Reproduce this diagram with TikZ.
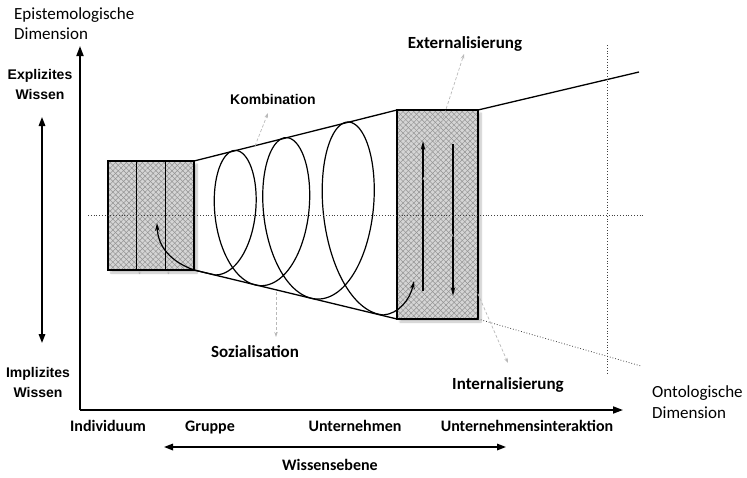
\documentclass[tikz,border=0pt]{standalone}
\usepackage{fontspec}
\setmainfont{Carlito}
\newfontfamily\arialfont{Liberation Sans}
\usetikzlibrary{arrows.meta,patterns.meta,shadows.blur}

\tikzset{
  axisline/.style={line width=1.8pt, -{Triangle[length=10pt,width=7pt]}},
  twoway/.style={line width=1.6pt, {Triangle[length=9pt,width=6.5pt]}-{Triangle[length=9pt,width=6.5pt]}},
  coneline/.style={line width=1.3pt},
  spiralline/.style={line width=1.2pt},
  hatchbox/.style={
    preaction={blur shadow={shadow xshift=3pt, shadow yshift=-3pt, shadow blur steps=6, shadow opacity=25}},
    preaction={fill=gray!33},
    preaction={pattern={Lines[angle=45,distance=3.8pt,line width=0.5pt]}, pattern color=gray!85},
    preaction={pattern={Lines[angle=-45,distance=3.8pt,line width=0.5pt]}, pattern color=gray!85},
    draw=black, line width=1.2pt, inner sep=0pt, outer sep=0pt},
  guide/.style={dotted, line width=0.8pt, black!75},
  pointer/.style={densely dashed, gray!55, line width=0.7pt, -{Stealth[length=5pt,width=3.5pt]}},
  flowarrow/.style={line width=1.2pt, -{Stealth[length=9pt,width=4.5pt]}},
  plainlbl/.style={font=\fontsize{17}{20}\selectfont, anchor=base west, inner sep=0pt},
  scalelbl/.style={font=\fontsize{16}{19}\selectfont\bfseries, anchor=base, inner sep=0pt},
  modelbl/.style={font=\fontsize{17}{20}\selectfont\bfseries, anchor=base, inner sep=0pt},
  arialbold/.style={font=\arialfont\fontsize{14}{20}\selectfont\bfseries, align=center, inner sep=0pt}
}

\begin{document}
\begin{tikzpicture}[x=1pt,y=-1pt]
\useasboundingbox (0,0) rectangle (747,477);

% hatched blocks: individual (three columns) and organisation
\node[hatchbox, minimum width=28.67pt, minimum height=109pt] (ind1) at (122.33,215.5) {};
\node[hatchbox, minimum width=28.67pt, minimum height=109pt] (ind2) at (151,215.5) {};
\node[hatchbox, minimum width=28.67pt, minimum height=109pt] (ind3) at (179.67,215.5) {};
\node[hatchbox, minimum width=81pt, minimum height=209pt] (org) at (437.5,214.5) {};

% cone outline
\coordinate (farright) at (639,72);
\draw[coneline] (ind3.north east) -- (org.north west);
\draw[coneline] (ind3.south east) -- (org.south west);
\draw[coneline] (org.north east) -- (farright);

% knowledge spiral: loops touching the cone, ending with an arrow into the organisation block
\coordinate (orgentry) at (414,281);
\draw[spiralline, -{Stealth[length=8pt,width=4.5pt]}] (ind3.south east)
  -- plot[domain=0.5:3.5, samples=600, variable=\u]
  ({5.5*\u*\u+34.5*\u+196 - (26.5+5*\u)*sin(360*\u)},
   {215.5 - 0.00735*(5.5*\u*\u+34.5*\u+2) - (54.5 + 0.24385*(5.5*\u*\u+34.5*\u+2))*cos(360*\u)})
  .. controls (398,314) and (410,300) .. (orgentry);

% curved arrow inside the individual block
\coordinate (indentry) at (157,223);
\draw[spiralline, -{Stealth[length=8pt,width=4.5pt]}] (ind3.south east) .. controls (172,262) and (158,248) .. (indentry);

% up and down arrows inside the organisation block
\coordinate (upfrom) at (423,291);
\coordinate (upto) at (423,141);
\coordinate (downfrom) at (453,144);
\coordinate (downto) at (453,296);
\draw[flowarrow] (upfrom) -- (upto);
\draw[flowarrow] (downfrom) -- (downto);

% dotted guide lines
\coordinate (hleft) at (88,215);
\coordinate (hright) at (643,215);
\coordinate (vtop) at (607,45);
\coordinate (vbot) at (607,373);
\coordinate (lowend) at (641,366);
\draw[guide] (hleft) -- (hright);
\draw[guide] (vtop) -- (vbot);
\draw[guide] (org.south east) -- (lowend);

% axes
\coordinate (origin) at (80,410);
\coordinate (ytip) at (80,46);
\coordinate (xtip) at (623,410);
\draw[axisline] (origin) -- (ytip);
\draw[axisline] (origin) -- (xtip);

% axis titles
\node[plainlbl] (epi1) at (14,19) {Epistemologische};
\node[plainlbl] (epi2) at (14,39) {Dimension};
\node[plainlbl] (onto1) at (652,397) {Ontologische};
\node[plainlbl] (onto2) at (652,418) {Dimension};

% epistemological scale
\node[arialbold] (expl) at (40,84) {Explizites\\Wissen};
\node[arialbold] (impl) at (38,382) {Implizites\\Wissen};
\coordinate (epiup) at (42,117);
\coordinate (epidown) at (42,343);
\draw[twoway] (epiup) -- (epidown);

% ontological scale
\node[scalelbl] (individuum) at (108,431) {Individuum};
\node[scalelbl] (gruppe) at (210,431) {Gruppe};
\node[scalelbl] (unternehmen) at (355,431) {Unternehmen};
\node[scalelbl] (interaktion) at (527,431) {Unternehmensinteraktion};
\coordinate (ebleft) at (164,447);
\coordinate (ebright) at (506,447);
\draw[twoway] (ebleft) -- (ebright);
\node[scalelbl] (ebene) at (330,470) {Wissensebene};

% conversion modes with pointers
\node[font=\arialfont\fontsize{14}{16}\selectfont\bfseries, anchor=base, inner sep=0pt] (komb) at (273,104) {Kombination};
\node[modelbl] (ext) at (465,48) {Externalisierung};
\node[modelbl] (soz) at (255,357) {Sozialisation};
\node[modelbl] (int) at (508,389) {Internalisierung};

\coordinate (kombfoot) at (255,146);
\coordinate (kombtip) at (268,113);
\coordinate (extfoot) at (423,180);
\coordinate (exttip) at (464,54);
\coordinate (sozfoot) at (276,292);
\coordinate (soztip) at (276,337);
\coordinate (intfoot) at (452,234);
\coordinate (inttip) at (508,363);
\draw[pointer] (kombfoot) -- (kombtip);
\draw[pointer] (extfoot) -- (exttip);
\draw[pointer] (sozfoot) -- (soztip);
\draw[pointer] (intfoot) -- (inttip);
\end{tikzpicture}
\end{document}
